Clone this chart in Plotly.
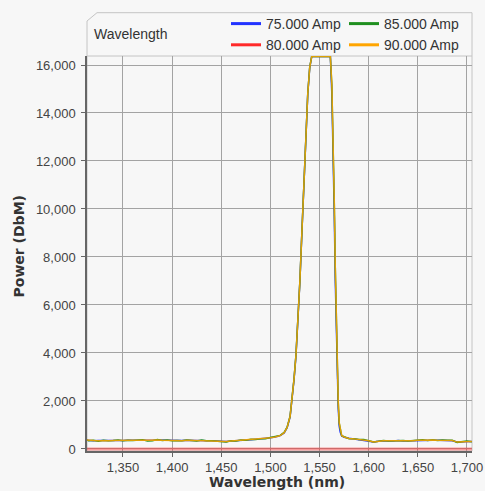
import plotly.graph_objects as go

# ---------------- data ----------------
wavelength = [1312, 1315, 1320, 1325, 1330, 1335, 1340, 1345, 1350, 1355, 1360, 1365, 1370, 1375,
              1380, 1385, 1390, 1395, 1400, 1405, 1410, 1415, 1420, 1425, 1430, 1435, 1440, 1445,
              1450, 1455, 1460, 1465, 1470, 1475, 1480, 1485, 1490, 1495, 1500,
              1505, 1510, 1514, 1517, 1520, 1522, 1524, 1526, 1528, 1530, 1532, 1534, 1536, 1538,
              1540, 1542,
              1545, 1550, 1555, 1558, 1561,
              1562.5, 1564, 1565, 1566, 1567, 1568, 1569, 1570, 1571, 1572.5,
              1575, 1580, 1585, 1590, 1595, 1600, 1605, 1610, 1615, 1620, 1625, 1630, 1635, 1640,
              1645, 1650, 1655, 1660, 1665, 1670, 1675, 1680, 1685, 1690, 1695, 1700, 1705]

power_75 = [370, 350, 345, 350, 345, 355, 345, 355, 350, 360, 355, 365, 360, 355,
            365, 370, 360, 350, 365, 355, 350, 360, 350, 355, 355, 340, 345, 325,
            305, 315, 335, 340, 365, 375, 385, 405, 415, 445, 465,
            495, 555, 670, 890, 1330, 1980, 2880, 3870, 5270, 6980, 8980, 11080, 13080, 14780,
            15880, 16350,
            16350, 16350, 16350, 16350, 16350,
            14800, 12200, 9700, 7000, 4700, 3000, 1700, 950, 700, 540,
            490, 445, 415, 405, 375, 345, 295, 325, 340, 345, 330, 350, 335, 345,
            340, 365, 365, 370, 365, 365, 360, 375, 345, 290, 305, 320, 315]

power_80 = [0, 0]
wavelength_80 = [1312, 1705]

power_85 = [395, 345, 365, 325, 360, 340, 355, 375, 340, 365, 350, 365, 385, 335,
            345, 390, 350, 370, 345, 355, 340, 370, 365, 335, 375, 340, 345, 325,
            310, 295, 340, 335, 370, 360, 400, 390, 430, 430, 480,
            510, 565, 690, 910, 1360, 2010, 2910, 3920, 5320, 7010, 9010, 11110, 13110, 14810,
            15910, 16350,
            16350, 16350, 16350, 16350, 16350,
            15150, 12700, 10200, 7550, 5150, 3350, 1950, 1080, 790, 555,
            510, 430, 430, 390, 390, 330, 295, 320, 355, 330, 345, 335, 350, 330,
            355, 350, 380, 355, 380, 350, 375, 360, 360, 275, 305, 335, 300]

power_90 = [380, 360, 350, 340, 355, 345, 350, 360, 355, 350, 365, 360, 370, 350,
            360, 375, 365, 355, 360, 350, 345, 365, 355, 350, 360, 345, 340, 330,
            300, 310, 330, 345, 360, 370, 390, 400, 420, 440, 470,
            500, 560, 680, 900, 1350, 2000, 2900, 3900, 5300, 7000, 9000, 11100, 13100, 14800,
            15900, 16350,
            16350, 16350, 16350, 16350, 16350,
            15200, 12800, 10300, 7600, 5200, 3400, 2000, 1100, 800, 560,
            500, 440, 420, 400, 380, 340, 290, 330, 345, 340, 335, 345, 340, 340,
            345, 360, 370, 365, 370, 360, 365, 370, 350, 285, 300, 325, 310]

series_names = ["75.000 Amp", "80.000 Amp", "85.000 Amp", "90.000 Amp"]
series_colors = ["#2233ff", "#ff2a2a", "#1f8f1f", "#ffa500"]

x_ticks = [1350, 1400, 1450, 1500, 1550, 1600, 1650, 1700]
y_ticks = [0, 2000, 4000, 6000, 8000, 10000, 12000, 14000, 16000]

x_title = "Wavelength (nm)"
y_title = "Power (DbM)"
header_label = "Wavelength"

# ---------------- figure ----------------
FONT = "Liberation Sans, Arial, sans-serif"
TITLE_FONT = "DejaVu Sans, Verdana, sans-serif"
W, H = 485, 491
L, R, T, B = 87, 13, 56, 40
PW, PH = W - L - R, H - T - B

fig = go.Figure()

fig.add_trace(go.Scatter(x=wavelength_80, y=power_80, mode="lines",
                         line=dict(color="rgba(255,40,40,0.45)", width=3), showlegend=False))
fig.add_trace(go.Scatter(x=wavelength, y=power_75, mode="lines",
                         line=dict(color=series_colors[0], width=1.5), showlegend=False))
fig.add_trace(go.Scatter(x=wavelength, y=power_85, mode="lines",
                         line=dict(color=series_colors[2], width=1.5), showlegend=False))
fig.add_trace(go.Scatter(x=wavelength, y=power_90, mode="lines",
                         line=dict(color=series_colors[3], width=1.5), opacity=0.85,
                         showlegend=False))

for i, (name, col) in enumerate(zip(series_names, series_colors)):
    fig.add_trace(go.Scatter(x=[None], y=[None], mode="lines", name=name,
                             line=dict(color=col, width=3),
                             legend="legend" if i < 2 else "legend2"))

legend_common = dict(orientation="v", bgcolor="rgba(0,0,0,0)", borderwidth=0,
                     font=dict(family=FONT, size=14, color="#333333"),
                     itemwidth=30, tracegroupgap=0, xanchor="left", yanchor="top",
                     xref="container", yref="container")

fig.update_layout(
    width=W, height=H,
    margin=dict(l=L, r=R, t=T, b=B, pad=0, autoexpand=False),
    paper_bgcolor="#f7f7f7", plot_bgcolor="#f7f7f7",
    font=dict(family=FONT, size=13, color="#444444"),
    legend=dict(x=226 / W, y=1 - 8 / H, **legend_common),
    legend2=dict(x=344 / W, y=1 - 8 / H, **legend_common),
    xaxis=dict(range=[1313.4, 1705.1], tickvals=x_ticks, tickformat=",", automargin=False,
               showgrid=True, gridcolor="#a3a3a3", gridwidth=1, zeroline=False,
               showline=True, linecolor="#666666", linewidth=1.5,
               ticks="outside", ticklen=4, tickcolor="#666666",
               tickfont=dict(family=FONT, size=13, color="#444444")),
    yaxis=dict(range=[-85, 16375], tickvals=y_ticks, tickformat=",", automargin=False,
               showgrid=True, gridcolor="#a3a3a3", gridwidth=1, zeroline=False,
               showline=True, linecolor="#666666", linewidth=1.5,
               ticks="outside", ticklen=4, tickcolor="#666666", ticklabelstandoff=3,
               tickfont=dict(family=FONT, size=13, color="#444444")),
    shapes=[
        dict(type="rect", xref="paper", yref="paper", x0=0, y0=0, x1=1, y1=1,
             line=dict(color="#c4c4c4", width=1), layer="below"),
        dict(type="path", xref="paper", yref="paper",
             path="M 0,1 L 0,{a} L {n},{b} L 1,{b} L 1,1".format(
                 a=(PH + T - 21) / PH, b=(PH + T - 12.7) / PH, n=10 / PW),
             line=dict(color="#c4c4c4", width=1)),
    ],
    annotations=[
        dict(text=header_label, xref="paper", yref="paper", x=5 / PW, y=(PH + T - 34) / PH,
             xanchor="left", yanchor="middle", showarrow=False,
             font=dict(family=FONT, size=14, color="#333333")),
        dict(text="<b>" + x_title + "</b>", xref="paper", yref="paper",
             x=(276.5 - L) / PW, y=(PH + T - 481.5) / PH,
             xanchor="center", yanchor="middle", showarrow=False,
             font=dict(family=TITLE_FONT, size=14, color="#333333")),
        dict(text="<b>" + y_title + "</b>", xref="paper", yref="paper", textangle=-90,
             x=(18 - L) / PW, y=(PH + T - 246.5) / PH,
             xanchor="center", yanchor="middle", showarrow=False,
             font=dict(family=TITLE_FONT, size=14, color="#333333")),
    ],
)

post = ("document.documentElement.style.margin='0';document.documentElement.style.padding='0';"
        "document.body.style.margin='0';document.body.style.padding='0';"
        "document.documentElement.style.overflow='hidden';document.body.style.overflow='hidden';"
        "window.scrollTo(0,0);")

fig.write_html("out.html", config={"displayModeBar": False}, post_script=post)
